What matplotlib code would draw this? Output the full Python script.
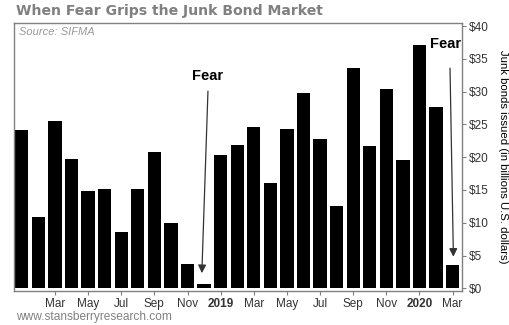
import numpy as np
import matplotlib
matplotlib.use("Agg")
import matplotlib.pyplot as plt

#%% Data (monthly junk bond issuance, billions USD, Jan 2018 - Mar 2020)
months = ['Jan', 'Feb', 'Mar', 'Apr', 'May', 'Jun', 'Jul', 'Aug', 'Sep', 'Oct', 'Nov', 'Dec',
          'Jan', 'Feb', 'Mar', 'Apr', 'May', 'Jun', 'Jul', 'Aug', 'Sep', 'Oct', 'Nov', 'Dec',
          'Jan', 'Feb', 'Mar']
issued = [24.2, 10.9, 25.5, 19.7, 14.9, 15.1, 8.6, 15.2, 20.8, 9.9, 3.7, 0.6,
          20.4, 21.9, 24.6, 16.0, 24.3, 29.8, 22.7, 12.6, 33.6, 21.7, 30.4, 19.6,
          37.1, 27.7, 3.5]
tick_idx = [2, 4, 6, 8, 10, 12, 14, 16, 18, 20, 22, 24, 26]
tick_labels = ['Mar', 'May', 'Jul', 'Sep', 'Nov', '2019', 'Mar', 'May', 'Jul', 'Sep', 'Nov', '2020', 'Mar']
y_ticks = [0, 5, 10, 15, 20, 25, 30, 35, 40]

#%% Plot
plt.rcParams['font.family'] = ['Liberation Sans', 'DejaVu Sans']
fig = plt.figure(figsize=(5.1, 3.25), dpi=100)
ax = fig.add_axes([0.0275, 0.1046, 0.8785, 0.8254])

x = np.arange(len(issued))
ax.bar(x, issued, width=0.8, color='black')

ax.set_xlim(-0.47, 26.57)
ax.set_ylim(-0.4, 40.5)

# axis styling
for s in ax.spines.values():
    s.set_color('#808080')
    s.set_linewidth(1.0)
ax.yaxis.tick_right()
ax.yaxis.set_label_position('right')
ax.set_yticks(y_ticks)
ax.set_yticklabels(['$%d' % v for v in y_ticks], fontsize=8.5, color='#333333')
ax.tick_params(axis='y', length=3, color='#808080', pad=2)
ax.set_xticks(tick_idx)
ax.set_xticklabels(tick_labels, fontsize=8.5, color='#333333')
ax.tick_params(axis='x', length=3, color='#808080', pad=2)
for lbl in ax.get_xticklabels():
    if lbl.get_text() in ('2019', '2020'):
        lbl.set_fontweight('bold')
ax.set_ylabel('Junk bonds issued (in billions U.S. dollars)', rotation=-90,
              labelpad=14, fontsize=8.2, color='black')

# annotations
ax.annotate('', xy=(10.86, 1.9), xytext=(11.24, 30.5),
            arrowprops=dict(arrowstyle='-|>', color='#333333', lw=0.9,
                            mutation_scale=12))
ax.text(11.24, 32.4, 'Fear', ha='center', va='center', fontsize=10.5,
        fontweight='bold')
ax.annotate('', xy=(26.05, 4.4), xytext=(25.84, 34.0),
            arrowprops=dict(arrowstyle='-|>', color='#333333', lw=0.9,
                            mutation_scale=12))
ax.text(25.6, 37.2, 'Fear', ha='center', va='center', fontsize=10.5,
        fontweight='bold')

ax.text(0.012, 0.985, 'Source: SIFMA', transform=ax.transAxes, ha='left', va='top',
        fontsize=8, style='italic', color='#999999')

fig.text(16 / 510, 1 - 11 / 325, 'When Fear Grips the Junk Bond Market',
         ha='left', va='center', fontsize=10.1, fontweight='bold',
         color='#808080', family='DejaVu Sans')
fig.text(16 / 510, 1 - 317 / 325, 'www.stansberryresearch.com',
         ha='left', va='center', fontsize=8.6, color='#808080')

fig.savefig('out.png', dpi=100)
